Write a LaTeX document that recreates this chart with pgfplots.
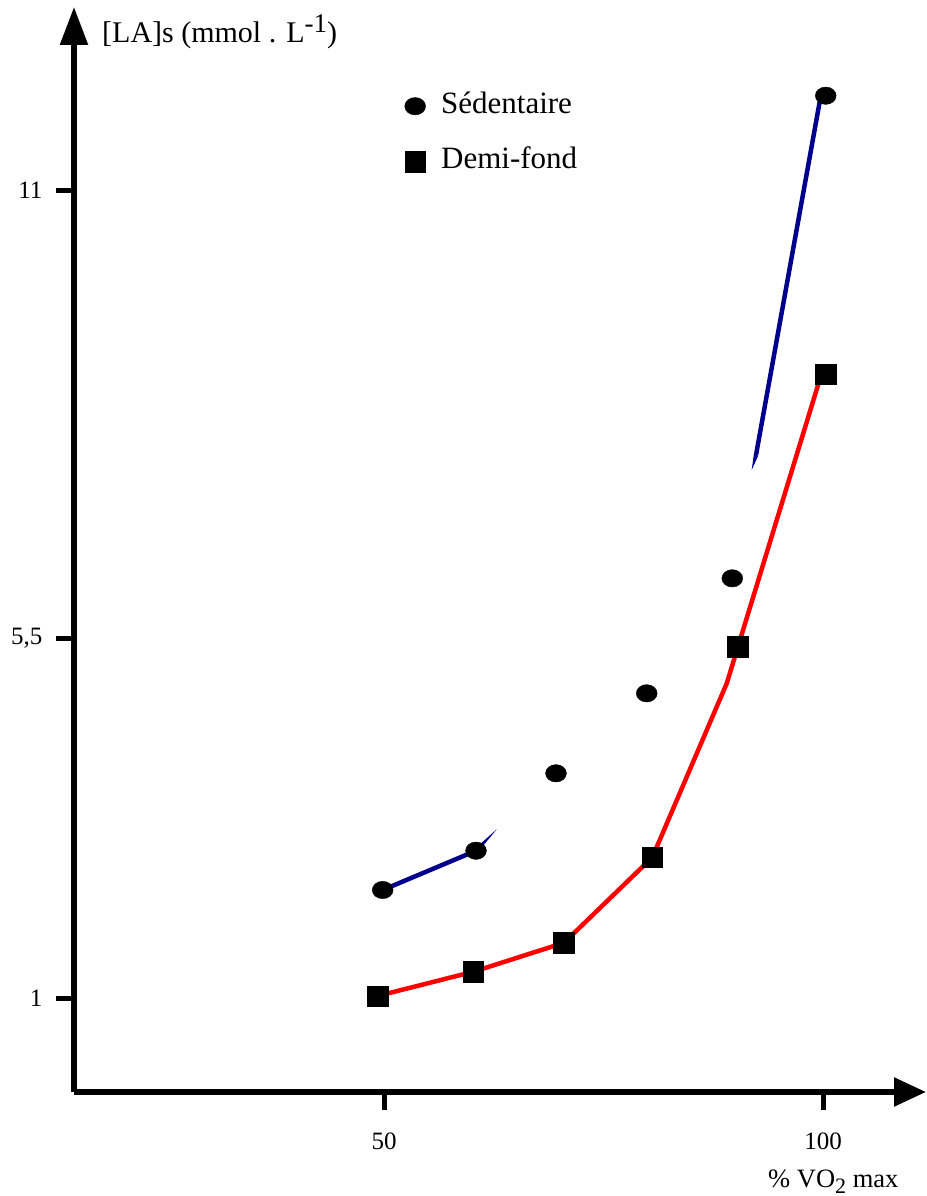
\documentclass[border=0pt]{standalone}
\usepackage{fontspec}
\setmainfont{Liberation Serif}
\usepackage{pgfplots}
\pgfplotsset{compat=1.18}
\usetikzlibrary{arrows.meta}
\definecolor{navyline}{RGB}{0,0,140}
\begin{document}
\begin{tikzpicture}
\path[use as bounding box] (-74pt,-104pt) rectangle (852pt,1092pt);
\begin{axis}[
  at={(0pt,0pt)}, anchor=south west,
  scale only axis, width=852pt, height=1085pt,
  xmin=14.692, xmax=111.731, ymin=-0.163, ymax=13.265,
  enlargelimits=false, clip=false,
  axis lines=left,
  axis line style={line width=5.5pt},
  x axis line style={-{Triangle[length=32pt,width=28pt]}},
  y axis line style={-{Triangle[length=38pt,width=27pt]}},
  xtick={50,100}, xticklabels={50,100},
  ytick={1,5.452,11}, yticklabels={1,{5,5},11},
  minor tick num=0,
  tick align=outside, major tick length=18pt,
  tick style={line width=5pt, black},
  tick label style={font=\fontsize{25}{30}\selectfont},
  xticklabel style={yshift=-19pt},
  yticklabel style={xshift=-10pt},
  xlabel={\% VO\raisebox{-6pt}{\fontsize{22}{24}\selectfont 2} max},
  ylabel={[LA]s (mmol . L\raisebox{9.5pt}{\fontsize{27}{29}\selectfont -1})},
  every axis x label/.style={at={(axis cs:93.74,-1.340)}, anchor=base west, inner sep=0pt, font=\fontsize{26.5}{30}\selectfont},
  every axis y label/.style={at={(axis cs:17.88,12.83)}, anchor=base west, inner sep=0pt, font=\fontsize{30}{36}\selectfont},
  legend style={draw=none, fill=none, at={(axis cs:52.33,12.163)}, anchor=north west,
    inner sep=0pt, font=\fontsize{31}{36}\selectfont, row sep=35pt, column sep=15.5pt,
    nodes={inner sep=0pt, text height=14.6pt, text depth=0pt}},
  legend cell align=left,
  legend image code/.code={\path[draw=none,fill=none] (-10.5pt,-10pt) rectangle (10.5pt,10pt); \draw[#1] plot coordinates {(0pt,0pt)};},
]
% lines
\addplot[red, line width=4.5pt, forget plot] coordinates {(49.26,1.025) (60.17,1.325) (70.50,1.684) (80.56,2.741) (89.04,4.895) (99.82,8.723)};
\addplot[navyline, line width=4.5pt, forget plot] coordinates {(49.85,2.337) (60.48,2.823)};
\addplot[fill=navyline, draw=none, forget plot] coordinates {(60.66,2.803) (60.30,2.843) (62.84,3.088)};
\addplot[navyline, line width=4.5pt, forget plot] coordinates {(92.37,7.720) (99.72,12.151)};
\addplot[fill=navyline, draw=none, forget plot] coordinates {(92.62,7.713) (92.12,7.728) (91.88,7.535)};
% marks
\addplot[only marks, mark=*, mark size=8.7pt, mark options={fill=black, draw=black, xscale=1.2}] coordinates {(49.85,2.337) (60.48,2.823) (69.59,3.781) (79.92,4.771) (89.67,6.194) (100.31,12.167)};
\addlegendentry{Sédentaire}
\addplot[only marks, mark=square*, mark size=10.3pt, mark options={fill=black, draw=black}] coordinates {(49.26,1.025) (60.17,1.325) (70.50,1.684) (80.56,2.741) (90.28,5.348) (100.31,8.719)};
\addlegendentry{Demi-fond}
\end{axis}
\end{tikzpicture}
\end{document}
